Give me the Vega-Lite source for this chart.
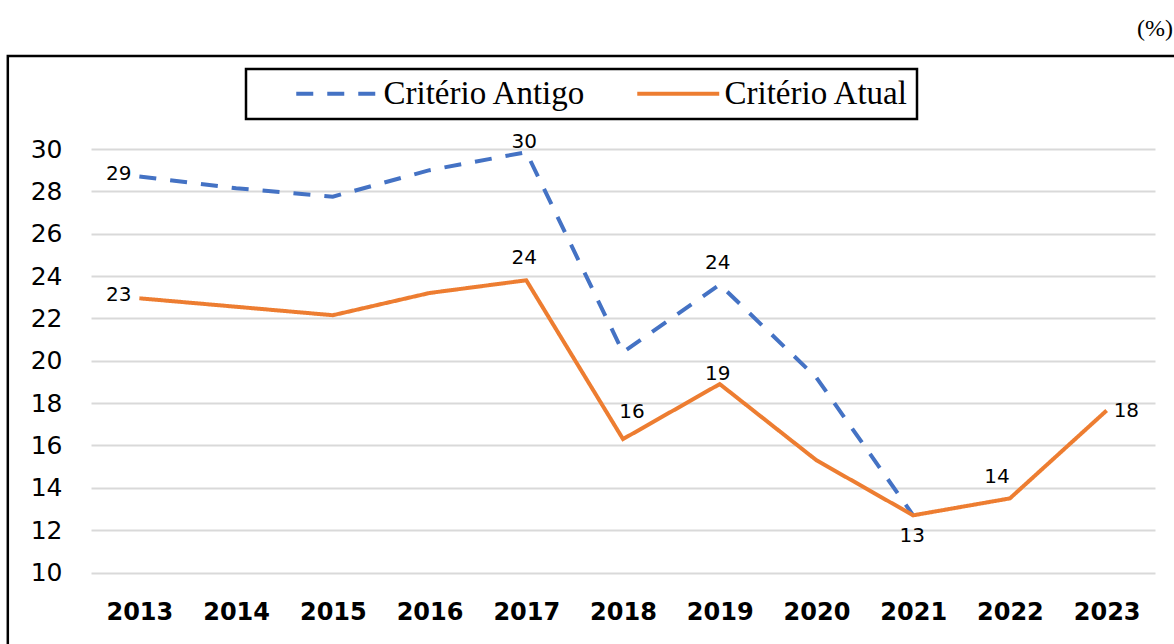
{
  "$schema": "https://vega.github.io/schema/vega-lite/v6.json",
  "width": 1064,
  "height": 423.5,
  "autosize": {"type": "none"},
  "padding": {"left": 91, "top": 149, "right": 19, "bottom": 71.5},
  "background": "white",
  "config": {"view": {"stroke": null}, "legend": {"strokeWidth": 2.5}},
  "title": {"text": "(%)", "anchor": "end", "frame": "group", "font": "Liberation Serif", "fontSize": 24, "fontWeight": "normal", "color": "black", "dx": 18, "offset": 14},
  "data": {"values": [
    {"ano": 2013, "serie": "Critério Antigo", "valor": 28.7},
    {"ano": 2014, "serie": "Critério Antigo", "valor": 28.15},
    {"ano": 2015, "serie": "Critério Antigo", "valor": 27.75},
    {"ano": 2016, "serie": "Critério Antigo", "valor": 29.0},
    {"ano": 2017, "serie": "Critério Antigo", "valor": 29.85},
    {"ano": 2018, "serie": "Critério Antigo", "valor": 20.4},
    {"ano": 2019, "serie": "Critério Antigo", "valor": 23.6},
    {"ano": 2020, "serie": "Critério Antigo", "valor": 19.2},
    {"ano": 2021, "serie": "Critério Antigo", "valor": 12.7},
    {"ano": 2013, "serie": "Critério Atual", "valor": 22.95},
    {"ano": 2014, "serie": "Critério Atual", "valor": 22.55},
    {"ano": 2015, "serie": "Critério Atual", "valor": 22.15},
    {"ano": 2016, "serie": "Critério Atual", "valor": 23.2},
    {"ano": 2017, "serie": "Critério Atual", "valor": 23.8},
    {"ano": 2018, "serie": "Critério Atual", "valor": 16.3},
    {"ano": 2019, "serie": "Critério Atual", "valor": 18.9},
    {"ano": 2020, "serie": "Critério Atual", "valor": 15.3},
    {"ano": 2021, "serie": "Critério Atual", "valor": 12.7},
    {"ano": 2022, "serie": "Critério Atual", "valor": 13.5},
    {"ano": 2023, "serie": "Critério Atual", "valor": 17.65}
  ]},
  "layer": [
    {
      "transform": [{"filter": "datum.serie == 'Critério Antigo'"}],
      "mark": {"type": "line", "strokeWidth": 4, "strokeCap": "butt"},
      "encoding": {
        "x": {"field": "ano", "type": "quantitative", "scale": {"domain": [2012.5, 2023.5], "nice": false, "zero": false},
          "axis": {"values": [2013, 2014, 2015, 2016, 2017, 2018, 2019, 2020, 2021, 2022, 2023], "format": "d", "title": null, "labelFont": "DejaVu Sans", "labelFontSize": 24, "labelFontWeight": "bold", "labelColor": "black", "labelPadding": 28, "ticks": false, "domain": false, "grid": false, "labelFlush": false, "labelOverlap": false}},
        "y": {"field": "valor", "type": "quantitative", "scale": {"domain": [10, 30], "nice": false, "zero": false},
          "axis": {"values": [10, 12, 14, 16, 18, 20, 22, 24, 26, 28, 30], "title": null, "labelFont": "DejaVu Sans", "labelFontSize": 25, "labelColor": "black", "labelPadding": 29, "ticks": false, "domain": false, "grid": true, "gridColor": "#d9d9d9", "gridWidth": 2, "labelFlush": false, "labelOverlap": false}},
        "color": {"field": "serie", "type": "nominal", "scale": {"domain": ["Critério Antigo", "Critério Atual"], "range": ["#4472C4", "#ED7D31"]},
          "legend": {"orient": "none", "legendX": 155, "legendY": -80, "direction": "horizontal", "columns": 2, "gridAlign": "all", "title": null, "labelFont": "Liberation Serif", "labelFontSize": 33, "labelColor": "black", "labelLimit": 600, "symbolType": "M-4,0H4", "symbolSize": 420, "symbolStrokeWidth": 4, "strokeColor": "black", "fillColor": "white", "padding": 8, "symbolOffset": 66.75, "labelOffset": 29.75, "columnPadding": 8}},
        "strokeDash": {"field": "serie", "type": "nominal", "scale": {"domain": ["Critério Antigo", "Critério Atual"], "range": [[17, 14], [1, 0]]},
          "legend": {"orient": "none", "legendX": 155, "legendY": -80, "direction": "horizontal", "columns": 2, "gridAlign": "all", "title": null, "labelFont": "Liberation Serif", "labelFontSize": 33, "labelColor": "black", "labelLimit": 600, "symbolType": "M-4,0H4", "symbolSize": 420, "symbolStrokeWidth": 4, "strokeColor": "black", "fillColor": "white", "padding": 8, "symbolOffset": 66.75, "labelOffset": 29.75, "columnPadding": 8}}
      }
    },
    {
      "transform": [{"filter": "datum.serie == 'Critério Atual'"}],
      "mark": {"type": "line", "strokeWidth": 4, "strokeCap": "butt"},
      "encoding": {
        "x": {"field": "ano", "type": "quantitative"},
        "y": {"field": "valor", "type": "quantitative"},
        "color": {"field": "serie", "type": "nominal"},
        "strokeDash": {"field": "serie", "type": "nominal"}
      }
    },
    {
      "transform": [{"filter": "datum.ano == 2013"}],
      "mark": {"type": "text", "font": "DejaVu Sans", "fontSize": 20, "color": "black", "align": "right", "baseline": "middle", "dx": -8, "dy": -3},
      "encoding": {"x": {"field": "ano", "type": "quantitative"}, "y": {"field": "valor", "type": "quantitative"}, "text": {"field": "valor", "type": "quantitative", "format": ".0f"}}
    },
    {
      "transform": [{"filter": "(datum.serie == 'Critério Antigo' && datum.ano == 2017) || (datum.serie == 'Critério Atual' && datum.ano == 2019)"}],
      "mark": {"type": "text", "font": "DejaVu Sans", "fontSize": 20, "color": "black", "align": "center", "baseline": "middle", "dx": -2, "dy": -10},
      "encoding": {"x": {"field": "ano", "type": "quantitative"}, "y": {"field": "valor", "type": "quantitative"}, "text": {"field": "valor", "type": "quantitative", "format": ".0f"}}
    },
    {
      "transform": [{"filter": "(datum.serie == 'Critério Atual' && datum.ano == 2017) || (datum.serie == 'Critério Antigo' && datum.ano == 2019)"}],
      "mark": {"type": "text", "font": "DejaVu Sans", "fontSize": 20, "color": "black", "align": "center", "baseline": "middle", "dx": -2, "dy": -22},
      "encoding": {"x": {"field": "ano", "type": "quantitative"}, "y": {"field": "valor", "type": "quantitative"}, "text": {"field": "valor", "type": "quantitative", "format": ".0f"}}
    },
    {
      "transform": [{"filter": "datum.serie == 'Critério Atual' && datum.ano == 2018"}],
      "mark": {"type": "text", "font": "DejaVu Sans", "fontSize": 20, "color": "black", "align": "center", "baseline": "middle", "dx": 9, "dy": -27},
      "encoding": {"x": {"field": "ano", "type": "quantitative"}, "y": {"field": "valor", "type": "quantitative"}, "text": {"field": "valor", "type": "quantitative", "format": ".0f"}}
    },
    {
      "transform": [{"filter": "datum.serie == 'Critério Atual' && datum.ano == 2022"}],
      "mark": {"type": "text", "font": "DejaVu Sans", "fontSize": 20, "color": "black", "align": "center", "baseline": "middle", "dx": -13, "dy": -21},
      "encoding": {"x": {"field": "ano", "type": "quantitative"}, "y": {"field": "valor", "type": "quantitative"}, "text": {"field": "valor", "type": "quantitative", "format": ".0f"}}
    },
    {
      "transform": [{"filter": "datum.serie == 'Critério Atual' && datum.ano == 2021"}],
      "mark": {"type": "text", "font": "DejaVu Sans", "fontSize": 20, "color": "black", "align": "center", "baseline": "middle", "dx": -1, "dy": 21},
      "encoding": {"x": {"field": "ano", "type": "quantitative"}, "y": {"field": "valor", "type": "quantitative"}, "text": {"field": "valor", "type": "quantitative", "format": ".0f"}}
    },
    {
      "transform": [{"filter": "datum.serie == 'Critério Atual' && datum.ano == 2023"}],
      "mark": {"type": "text", "font": "DejaVu Sans", "fontSize": 20, "color": "black", "align": "left", "baseline": "middle", "dx": 7, "dy": 0},
      "encoding": {"x": {"field": "ano", "type": "quantitative"}, "y": {"field": "valor", "type": "quantitative"}, "text": {"field": "valor", "type": "quantitative", "format": ".0f"}}
    },
    {
      "data": {"values": [{}]},
      "mark": {"type": "rect", "fillOpacity": 0, "stroke": "black", "strokeWidth": 2.5},
      "encoding": {
        "x": {"datum": 2011.64, "type": "quantitative"},
        "x2": {"datum": 2024.6},
        "y": {"datum": 34.39, "type": "quantitative"},
        "y2": {"datum": 5}
      }
    }
  ]
}
